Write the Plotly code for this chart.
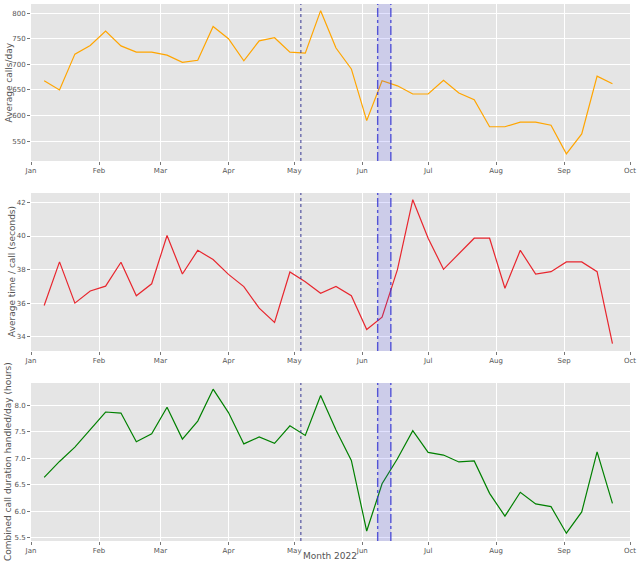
import plotly.graph_objects as go

dates = ["2022-01-07", "2022-01-14", "2022-01-21", "2022-01-28",
         "2022-02-04", "2022-02-11", "2022-02-18", "2022-02-25",
         "2022-03-04", "2022-03-11", "2022-03-18", "2022-03-25",
         "2022-04-01", "2022-04-08", "2022-04-15", "2022-04-22", "2022-04-29",
         "2022-05-06", "2022-05-13", "2022-05-20", "2022-05-27",
         "2022-06-03", "2022-06-10", "2022-06-17", "2022-06-24",
         "2022-07-01", "2022-07-08", "2022-07-15", "2022-07-22", "2022-07-29",
         "2022-08-05", "2022-08-12", "2022-08-19", "2022-08-26",
         "2022-09-02", "2022-09-09", "2022-09-16", "2022-09-23"]

avg_calls = [668, 650, 720, 737, 765, 736, 724, 724, 718, 704, 708, 774,
             750, 707, 746, 752, 724, 722, 805, 732, 691, 590, 668, 658,
             642, 642, 669, 644, 631, 578, 578, 587, 587, 581, 525, 564,
             677, 662]

avg_time = [35.87, 38.46, 36.01, 36.73, 37.02, 38.44, 36.45, 37.16, 40.03,
            37.74, 39.15, 38.6, 37.72, 36.99, 35.71, 34.86, 37.86, 37.28,
            36.59, 37.0, 36.45, 34.44, 35.17, 38.0, 42.16, 39.87, 38.02,
            38.94, 39.87, 39.87, 36.89, 39.15, 37.74, 37.88, 38.46, 38.46,
            37.88, 33.6]

combined_hours = [6.64, 6.94, 7.21, 7.53, 7.87, 7.85, 7.31, 7.46, 7.96, 7.36,
                  7.70, 8.30, 7.86, 7.27, 7.40, 7.28, 7.61, 7.43, 8.18, 7.53,
                  6.96, 5.63, 6.52, 6.99, 7.52, 7.11, 7.06, 6.93, 6.95, 6.34,
                  5.91, 6.36, 6.14, 6.09, 5.59, 5.99, 7.12, 6.15]

month_ticks = ["2022-01-01", "2022-02-01", "2022-03-01", "2022-04-01",
               "2022-05-01", "2022-06-01", "2022-07-01", "2022-08-01",
               "2022-09-01", "2022-10-01"]
month_labels = ["Jan", "Feb", "Mar", "Apr", "May", "Jun", "Jul", "Aug",
                "Sep", "Oct"]

event_date = "2022-05-04"
span_start = "2022-06-08"
span_end = "2022-06-14"

W, H = 640, 565
x0p, x1p = 31, 630
panels = [(4, 161), (193, 351), (383, 541)]
series = [(avg_calls, "orange", [511, 818], [550, 600, 650, 700, 750, 800], None,
           "Average calls/day", 8),
          (avg_time, "#e8262e", [33.16, 42.56], [34, 36, 38, 40, 42], None,
           "Average time / call (seconds)", 12),
          (combined_hours, "green", [5.443, 8.416], [5.5, 6.0, 6.5, 7.0, 7.5, 8.0], ".1f",
           "Combined call duration handled/day (hours)", 8)]

fig = go.Figure()
layout = dict(width=W, height=H, margin=dict(l=0, r=0, t=0, b=0, autoexpand=False),
              paper_bgcolor="white", plot_bgcolor="#E5E5E5",
              showlegend=False, font=dict(family="DejaVu Sans", color="#555555"))
shapes = []
annotations = []
for i, ((top, bot), (vals, col, yr, yt, fmt, title, tx)) in enumerate(zip(panels, series)):
    n = "" if i == 0 else str(i + 1)
    fig.add_trace(go.Scatter(x=dates, y=vals, mode="lines",
                             line=dict(color=col, width=1.2),
                             xaxis="x" + n, yaxis="y" + n))
    layout["xaxis" + n] = dict(domain=[x0p / W, x1p / W], anchor="y" + n,
                               type="date", range=["2022-01-01", "2022-10-01"],
                               tickvals=month_ticks, ticktext=month_labels,
                               showgrid=True, gridcolor="white", gridwidth=1,
                               zeroline=False, showline=False, automargin=False,
                               ticks="outside", ticklen=3, tickcolor="#777777",
                               tickfont=dict(size=7, color="#555555"))
    ya = dict(domain=[1 - bot / H, 1 - top / H], anchor="x" + n,
              range=yr, tickvals=yt, showgrid=True, gridcolor="white",
              gridwidth=1, zeroline=False, showline=False, automargin=False,
              ticks="outside", ticklen=3, tickcolor="#777777",
              tickfont=dict(size=7, color="#555555"))
    if fmt:
        ya["tickformat"] = fmt
    layout["yaxis" + n] = ya
    xr = "x" + n
    yd = "y" + n + " domain"
    shapes.append(dict(type="rect", xref=xr, yref=yd, x0=span_start, x1=span_end,
                       y0=0, y1=1, fillcolor="rgba(60,60,255,0.15)", line=dict(width=0),
                       layer="above"))
    for d in (span_start, span_end):
        shapes.append(dict(type="line", xref=xr, yref=yd, x0=d, x1=d, y0=0, y1=1,
                           line=dict(color="rgba(50,50,210,0.8)", width=1.4,
                                     dash="dashdot")))
    shapes.append(dict(type="line", xref=xr, yref=yd, x0=event_date, x1=event_date,
                       y0=0, y1=1, line=dict(color="#22228a", width=0.9, dash="dot")))
    annotations.append(dict(text=title, xref="paper", yref="paper",
                            x=tx / W, y=1 - (top + bot) / 2 / H, textangle=-90,
                            showarrow=False, xanchor="center", yanchor="middle",
                            font=dict(size=9, color="#555555")))

annotations.append(dict(text="Month 2022", xref="paper", yref="paper",
                        x=330 / W, y=1 - 556 / H, showarrow=False,
                        xanchor="center", yanchor="middle",
                        font=dict(size=9, color="#555555")))
layout["shapes"] = shapes
layout["annotations"] = annotations
fig.update_layout(**layout)
fig.write_html("out.html", config={"displayModeBar": False},
               post_script="document.body.style.margin='0';document.body.style.padding='0';")
